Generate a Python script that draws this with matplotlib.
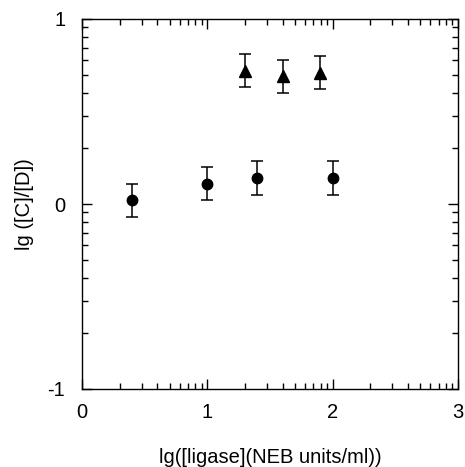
import numpy as np
import matplotlib
matplotlib.use("Agg")
import matplotlib.pyplot as plt

plt.rcParams['font.family'] = ['Liberation Sans', 'DejaVu Sans']

# circles
circ_x = [0.4, 1.0, 1.4, 2.0]
circ_y = [0.02, 0.11, 0.14, 0.14]
circ_err = [0.09, 0.09, 0.09, 0.09]

# triangles
tri_x = [1.3, 1.6, 1.9]
tri_y = [0.72, 0.69, 0.71]
tri_err = [0.09, 0.09, 0.09]

x_ticks = [0, 1, 2, 3]
y_ticks = [-1, 0, 1]

fig = plt.figure(figsize=(4.65, 4.67), dpi=100)
ax = fig.add_axes([82/465, 1-389/467, (458-82)/465, (389-19)/467])

ax.errorbar(circ_x, circ_y, yerr=circ_err, fmt='o', color='black', ms=7.5,
            ecolor='black', elinewidth=1.1, capsize=4, capthick=1.1)
ax.errorbar(tri_x, tri_y, yerr=tri_err, fmt='^', color='black', ms=8,
            ecolor='black', elinewidth=1.1, capsize=4, capthick=1.1)

ax.set_xlim(0, 3)
ax.set_ylim(-1, 1)

# log-style minor ticks (k + log10(m))
sub = np.log10(np.arange(2, 10))
xminor = np.concatenate([k + sub for k in range(3)])
yminor = np.concatenate([k + sub for k in (-1, 0)])
ax.set_xticks(x_ticks)
ax.set_yticks(y_ticks)
ax.set_xticks(xminor, minor=True)
ax.set_yticks(yminor, minor=True)
ax.set_xticklabels([str(t) for t in x_ticks])
ax.set_yticklabels([str(t) for t in y_ticks])

ax.tick_params(which='both', direction='in', top=True, right=True,
               width=1.0, labelsize=14.5, color='black')
ax.tick_params(which='major', length=7)
ax.tick_params(which='minor', length=4.5)
ax.tick_params(axis='x', which='major', pad=10)
ax.tick_params(axis='y', which='major', pad=12)

for s in ax.spines.values():
    s.set_linewidth(1.0)

ax.set_xlabel("lg([ligase](NEB units/ml))", fontsize=14.5, labelpad=19)
ax.set_ylabel("lg ([C]/[D])", fontsize=14.5, labelpad=10)

fig.savefig("out.png", dpi=100)
